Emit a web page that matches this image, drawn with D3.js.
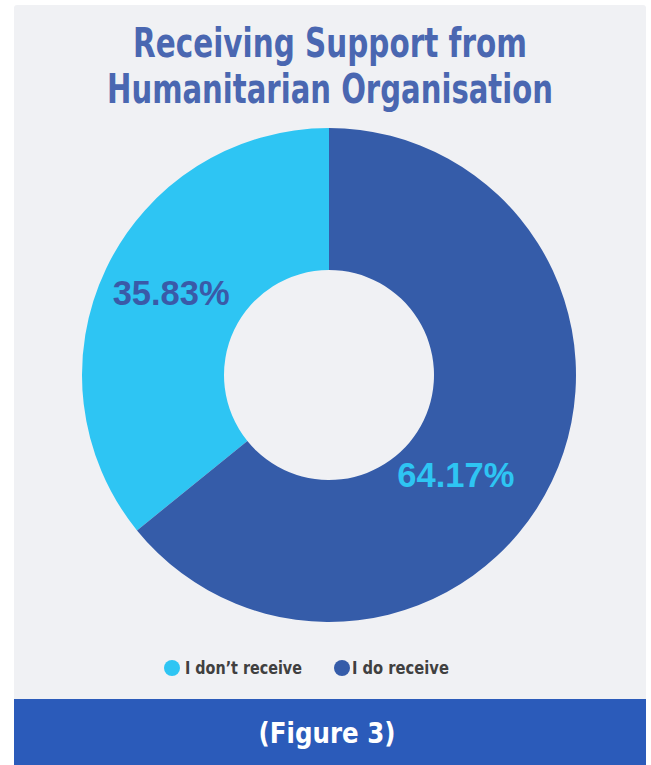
<!DOCTYPE html>
<html>
<head>
<meta charset="utf-8">
<script src="https://cdn.jsdelivr.net/npm/d3@7"></script>
<style>
  html, body { margin: 0; padding: 0; background: #ffffff; }
  svg { display: block; }
</style>
</head>
<body>
<div id="chart"></div>
<script>
// Share of respondents receiving support from a humanitarian organisation
const titleLines = ["Receiving Support from", "Humanitarian Organisation"];
const categories = ["I don\u2019t receive", "I do receive"];
const values = [35.83, 64.17];
const sliceColors = ["#2ec5f3", "#355ca9"];
const labelColors = ["#3a5aa8", "#2ec5f3"];
const footerText = "(Figure 3)";

const W = 651, H = 765;
const cx = 329, cy = 375, outerR = 247, innerR = 105;
const narrow = "'Liberation Sans Narrow', 'DejaVu Sans Condensed', 'Arial Narrow', sans-serif";

const svg = d3.select("#chart").append("svg")
  .attr("width", W).attr("height", H);

// card background and footer band
svg.append("rect").attr("x", 14).attr("y", 5).attr("width", 632).attr("height", 700)
  .attr("rx", 3).attr("fill", "#f0f1f4");
svg.append("rect").attr("x", 14).attr("y", 699).attr("width", 632).attr("height", 66)
  .attr("fill", "#2b5bba");

// place a text so that it spans a given width, scaling horizontally around its anchor
function placeText(parent, str, x, y, width, anchor, attrs) {
  const grp = parent.append("g");
  const t = grp.append("text").attr("x", 0).attr("y", 0)
    .attr("text-anchor", anchor).text(str);
  Object.entries(attrs).forEach(([k, v]) => t.attr(k, v));
  const natural = t.node().getComputedTextLength() || width;
  grp.attr("transform", `translate(${x},${y}) scale(${width / natural},1)`);
  return t;
}

// title
const titleSpec = [
  { y: 57, width: 394 },
  { y: 103, width: 446 }
];
titleLines.forEach((t, i) => {
  placeText(svg, t, 330, titleSpec[i].y, titleSpec[i].width, "middle", {
    "font-family": narrow, "font-weight": "bold", "font-size": 41, "fill": "#4a67b1"
  });
});

// donut
const total = d3.sum(values);
const start = -2 * Math.PI * values[0] / total;
const pie = d3.pie().sort(null).value(d => d)
  .startAngle(start).endAngle(start + 2 * Math.PI);
const arc = d3.arc().innerRadius(innerR).outerRadius(outerR);
const arcs = pie(values);

const g = svg.append("g").attr("transform", `translate(${cx},${cy})`);
g.selectAll("path.slice").data(arcs).enter().append("path")
  .attr("class", "slice")
  .attr("d", arc)
  .attr("fill", (d, i) => sliceColors[i]);

// percentage labels, nudged from the slice centroid
const labelNudge = [[1, -6], [-32, 24]];
const fmt = d3.format(".2f");
g.selectAll("text.pct").data(arcs).enter().append("text")
  .attr("class", "pct")
  .attr("x", (d, i) => arc.centroid(d)[0] + labelNudge[i][0])
  .attr("y", (d, i) => arc.centroid(d)[1] + labelNudge[i][1] + 12)
  .attr("text-anchor", "middle")
  .attr("font-family", "'Liberation Sans', Arial, sans-serif")
  .attr("font-weight", "bold").attr("font-size", 34.5)
  .attr("fill", (d, i) => labelColors[i])
  .text(d => fmt(d.data) + "%");

// legend
const legendSpec = [
  { cx: 172, tx: 185, width: 117 },
  { cx: 342, tx: 352, width: 97 }
];
categories.forEach((c, i) => {
  svg.append("circle")
    .attr("cx", legendSpec[i].cx).attr("cy", 668).attr("r", 8)
    .attr("fill", sliceColors[i]);
  placeText(svg, c, legendSpec[i].tx, 674, legendSpec[i].width, "start", {
    "font-family": narrow, "font-weight": "bold", "font-size": 17, "fill": "#404040"
  });
});

// footer caption
placeText(svg, footerText, 327, 743, 137, "middle", {
  "font-family": narrow, "font-weight": "bold", "font-size": 28, "fill": "#ffffff"
});
</script>
</body>
</html>
